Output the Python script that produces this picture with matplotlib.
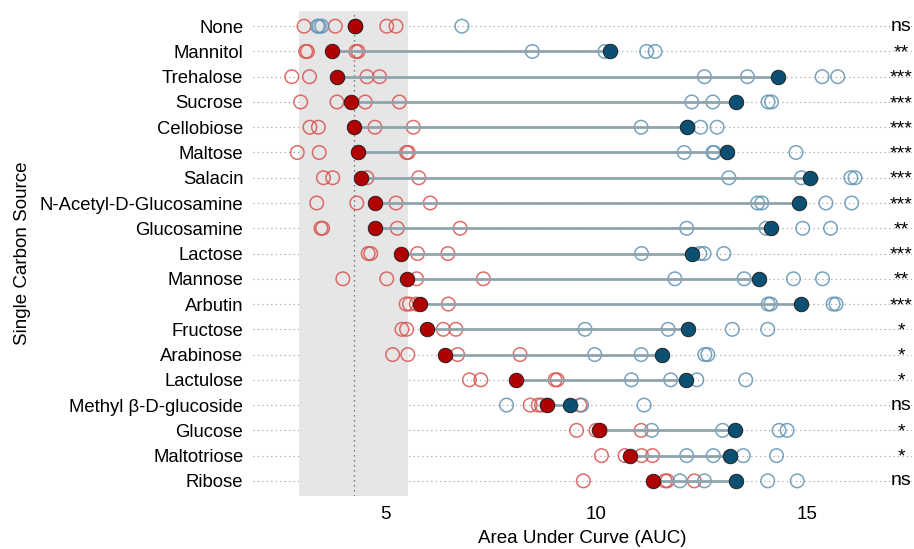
import matplotlib
matplotlib.use("Agg")
import matplotlib.pyplot as plt
from matplotlib.patches import Rectangle

plt.rcParams['font.family'] = ['Liberation Sans', 'DejaVu Sans']

# carbon sources, top to bottom
sources = ['None', 'Mannitol', 'Trehalose', 'Sucrose', 'Cellobiose', 'Maltose',
           'Salacin', 'N-Acetyl-D-Glucosamine', 'Glucosamine', 'Lactose', 'Mannose',
           'Arbutin', 'Fructose', 'Arabinose', 'Lactulose', 'Methyl β-D-glucoside',
           'Glucose', 'Maltotriose', 'Ribose']

# replicate AUC values (red = control strain, blue = test strain)
red_reps = [
    [3.08, 3.82, 5.04, 5.26],
    [3.12, 3.16, 4.31, 4.36],
    [2.79, 3.21, 4.57, 4.87],
    [3.00, 3.86, 4.53, 5.34],
    [3.22, 3.42, 4.76, 5.67],
    [2.92, 3.44, 5.51, 5.55],
    [3.54, 3.76, 4.57, 5.80],
    [3.38, 4.33, 5.26, 6.07],
    [3.48, 3.52, 5.29, 6.78],
    [4.60, 4.66, 5.77, 6.49],
    [4.00, 5.04, 5.75, 7.33],
    [5.50, 5.58, 5.74, 6.50],
    [5.40, 5.51, 6.38, 6.68],
    [5.18, 5.54, 6.72, 8.20],
    [7.00, 7.27, 9.03, 9.08],
    [8.44, 8.63, 8.71, 9.62],
    [9.54, 10.00, 10.10, 11.07],
    [10.13, 10.69, 11.08, 11.34],
    [9.70, 11.64, 11.69, 12.33],
]
blue_reps = [
    [3.40, 3.44, 3.50, 6.82],
    [8.49, 10.21, 11.20, 11.40],
    [12.57, 13.59, 15.36, 15.73],
    [12.27, 12.77, 14.08, 14.16],
    [11.07, 12.18, 12.48, 12.87],
    [12.09, 12.77, 12.80, 14.74],
    [13.15, 14.87, 16.04, 16.14],
    [13.83, 13.93, 15.45, 16.06],
    [12.15, 14.03, 14.90, 15.56],
    [11.08, 12.46, 12.56, 13.03],
    [11.87, 13.51, 14.68, 15.37],
    [14.08, 14.14, 15.62, 15.69],
    [9.74, 11.71, 13.23, 14.07],
    [9.97, 11.07, 12.58, 12.65],
    [10.84, 11.77, 12.39, 13.55],
    [7.88, 8.84, 9.66, 11.14],
    [11.32, 13.00, 14.34, 14.53],
    [12.15, 12.78, 13.49, 14.28],
    [11.99, 12.57, 14.07, 14.77],
]
red_mean = [4.29, 3.74, 3.86, 4.19, 4.27, 4.37, 4.43, 4.76, 4.76, 5.38,
            5.53, 5.83, 6.00, 6.41, 8.10, 8.85, 10.08, 10.81, 11.34]
blue_mean = [4.29, 10.33, 14.31, 13.33, 12.15, 13.10, 15.07, 14.82, 14.16, 12.28,
             13.86, 14.87, 12.19, 11.56, 12.13, 9.38, 13.29, 13.18, 13.33]
signif = ['ns', '**', '***', '***', '***', '***', '***', '***', '**', '***',
          '**', '***', '*', '*', '*', 'ns', '*', '*', 'ns']

# baseline band (no carbon source)
band_lo, band_hi, band_mid = 2.96, 5.55, 4.27

red_open = '#d9534f'
blue_open = '#5f93b5'
red_fill = '#b00000'
blue_fill = '#0b4f73'
seg_col = '#8fa3ad'

fig = plt.figure(figsize=(9.14, 5.49), dpi=100)
ax = fig.add_axes([0.2768, 0.0965, 0.721, 0.8834])

n = len(sources)
ypos = [n - 1 - i for i in range(n)]

for y in ypos:
    ax.axhline(y, color='#9a9a9a', lw=0.8, ls=(0, (1, 3)), zorder=0)

ax.add_patch(Rectangle((band_lo, -0.6), band_hi - band_lo, n + 0.2,
                       facecolor='#e6e6e6', edgecolor='none', zorder=1))
ax.axvline(band_mid, color='#555555', lw=0.9, ls=(0, (1, 3)), zorder=2)

for i, y in enumerate(ypos):
    ax.scatter(red_reps[i], [y] * len(red_reps[i]), s=95, facecolors='none',
               edgecolors=red_open, linewidths=1.1, alpha=0.85, zorder=3)
    ax.scatter(blue_reps[i], [y] * len(blue_reps[i]), s=95, facecolors='none',
               edgecolors=blue_open, linewidths=1.1, alpha=0.85, zorder=3)
    ax.plot([red_mean[i], blue_mean[i]], [y, y], color=seg_col, lw=2.0,
            solid_capstyle='butt', zorder=4)
    ax.scatter([blue_mean[i]], [y], s=110, color=blue_fill, edgecolors='#1a1a1a',
               linewidths=0.6, zorder=5)
    ax.scatter([red_mean[i]], [y], s=110, color=red_fill, edgecolors='#1a1a1a',
               linewidths=0.6, zorder=6)
    if signif[i] == 'ns':
        ax.text(17.23, y, signif[i], ha='center', va='center', fontsize=14, zorder=7)
    else:
        ax.text(17.23, y - 0.06, signif[i], ha='center', va='center', fontsize=14,
                zorder=7)

ax.set_xlim(1.87, 17.49)
ax.set_ylim(-0.6, n - 0.4)
ax.set_yticks(ypos)
ax.set_yticklabels(sources, fontsize=13.3)
ax.set_xticks([5, 10, 15])
ax.set_xticklabels(['5', '10', '15'], fontsize=13.5)
ax.tick_params(axis='both', length=0)
ax.tick_params(axis='y', pad=7)
ax.tick_params(axis='x', pad=7)
for s in ax.spines.values():
    s.set_visible(False)
ax.set_xlabel('Area Under Curve (AUC)', fontsize=13.5, labelpad=5)
ax.set_ylabel('Single Carbon Source', fontsize=13.5)
ax.yaxis.set_label_coords(-0.337, 0.5)

fig.savefig('out.png', dpi=100)
